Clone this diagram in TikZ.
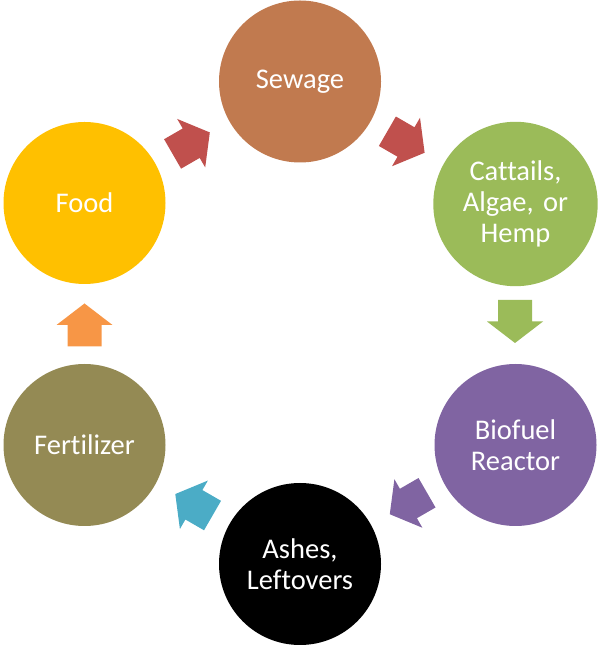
\documentclass[tikz,border=0pt]{standalone}
\usepackage{fontspec}
\setmainfont[Ligatures={NoCommon,NoRare,NoDiscretionary}]{Carlito}
\definecolor{sewagec}{RGB}{193,122,79}
\definecolor{cattailc}{HTML}{9BBB59}
\definecolor{biofuelc}{HTML}{8064A2}
\definecolor{fertc}{HTML}{948A54}
\definecolor{foodc}{HTML}{FFC000}
\definecolor{redarr}{HTML}{C0504D}
\definecolor{cyanarr}{HTML}{4BACC6}
\definecolor{orangearr}{HTML}{F79646}
\begin{document}
\begin{tikzpicture}[x=1pt,y=1pt,
  stage/.style={circle,minimum size=162pt,inner sep=0pt,text=white,
    font=\fontsize{28.5}{31}\selectfont,align=center,text width=140pt},
  blockarrow/.pic={\fill[#1] (-21.5,-17) -- (0,-17) -- (0,-28) -- (21.5,0) -- (0,28) -- (0,17) -- (-21.5,17) -- cycle;}]
\useasboundingbox (0,0) rectangle (600,647);
\node[stage,fill=sewagec]   (sewage)  at (300,565.5) {Sewage};
\node[stage,fill=cattailc]  (cattail) at (515.5,443) {Cattails,\\Algae, or\\Hemp};
\node[stage,fill=biofuelc]  (biofuel) at (515.5,202) {Biofuel\\Reactor};
\node[stage,fill=black]     (ashes)   at (300,83) {Ashes,\\Leftovers};
\node[stage,fill=fertc]     (fert)    at (84.5,202) {Fertilizer};
\node[stage,fill=foodc]     (food)    at (84.5,444) {Food};
\pic[rotate=30]  at (191.2,503.8) {blockarrow=redarr};
\pic[rotate=-30] at (406,505)     {blockarrow=redarr};
\pic[rotate=-90] at (515,325.5)   {blockarrow=cattailc};
\pic[rotate=210] at (408.4,143.5) {blockarrow=biofuelc};
\pic[rotate=150] at (193.9,142.2) {blockarrow=cyanarr};
\pic[rotate=90]  at (84.5,322)    {blockarrow=orangearr};
\end{tikzpicture}
\end{document}
